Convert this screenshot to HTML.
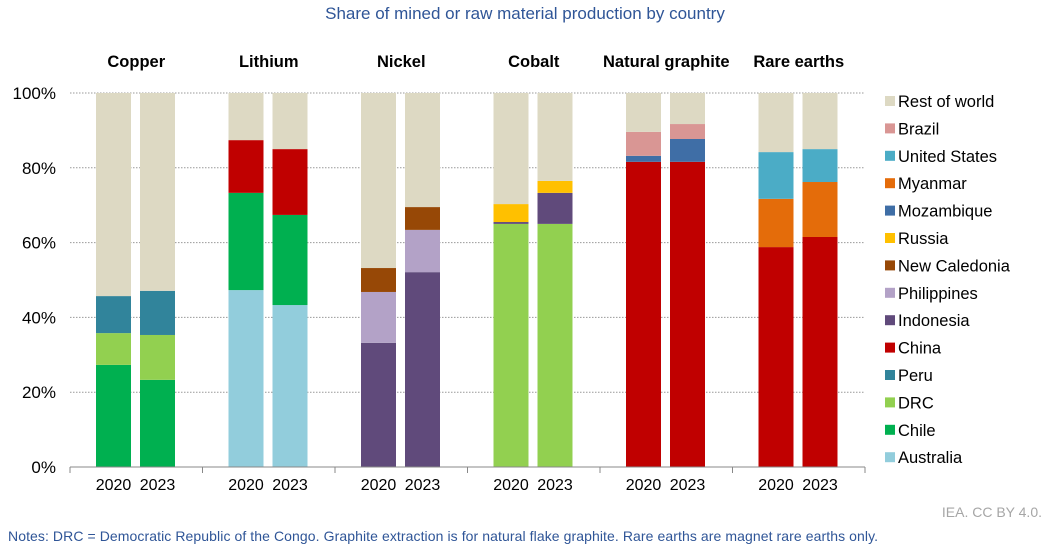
<!DOCTYPE html>
<html><head><meta charset="utf-8"><style>
body{margin:0;background:#fff;width:1049px;height:545px;overflow:hidden;font-family:"Liberation Sans",sans-serif}
</style></head><body>
<svg id="chart" width="1049" height="545" xmlns="http://www.w3.org/2000/svg" font-family="Liberation Sans, sans-serif">
<text x="525" y="19" text-anchor="middle" font-size="17" fill="#2f5597">Share of mined or raw material production by country</text>
<g id="grid"></g><g id="bars"></g><g id="axes"></g><g id="legend"></g>
<text x="1042" y="517" text-anchor="end" font-size="14" fill="#a6a6a6">IEA. CC BY 4.0.</text>
<text x="8" y="541" font-size="14" textLength="870" fill="#2f5597">Notes: DRC = Democratic Republic of the Congo. Graphite extraction is for natural flake graphite. Rare earths are magnet rare earths only.</text>
</svg>
<script>
const minerals=["Copper","Lithium","Nickel","Cobalt","Natural graphite","Rare earths"];
const years=["2020","2023"];
const countries=["Australia","Chile","DRC","Peru","China","Indonesia","Philippines","New Caledonia","Russia","Mozambique","Myanmar","United States","Brazil","Rest of world"];
const colors=["#92cddc","#00b050","#92d050","#31849b","#c00000","#604a7b","#b3a2c7","#974806","#ffc000","#3f6ea6","#e46c0a","#4bacc6","#d99694","#ddd9c3"];
const copper2020=[0,27.3,8.5,9.9,0,0,0,0,0,0,0,0,0];
const copper2023=[0,23.3,12,11.8,0,0,0,0,0,0,0,0,0];
const lithium2020=[47.3,26,0,0,14.1,0,0,0,0,0,0,0,0];
const lithium2023=[43.3,24.1,0,0,17.6,0,0,0,0,0,0,0,0];
const nickel2020=[0,0,0,0,0,33.2,13.6,6.4,0,0,0,0,0];
const nickel2023=[0,0,0,0,0,52.1,11.3,6.1,0,0,0,0,0];
const cobalt2020=[0,0,65,0,0,0.5,0,0,4.8,0,0,0,0];
const cobalt2023=[0,0,65,0,0,8.3,0,0,3.2,0,0,0,0];
const graphite2020=[0,0,0,0,81.6,0,0,0,0,1.6,0,0,6.4];
const graphite2023=[0,0,0,0,81.6,0,0,0,0,6.1,0,0,4];
const rare2020=[0,0,0,0,58.8,0,0,0,0,0,12.9,12.5,0];
const rare2023=[0,0,0,0,61.5,0,0,0,0,0,14.7,8.8,0];
const yTicks=[0,20,40,60,80,100];
const series=[[copper2020,copper2023],[lithium2020,lithium2023],[nickel2020,nickel2023],[cobalt2020,cobalt2023],[graphite2020,graphite2023],[rare2020,rare2023]];
const NS="http://www.w3.org/2000/svg";
const y0=467,y1=93,xL=70,gw=132.5,bw=35;
const y=v=>y0-(y0-y1)*v/100;
const gx=i=>xL+gw*i;
function mk(t,a,p){const e=document.createElementNS(NS,t);for(const k in a)e.setAttribute(k,a[k]);p.appendChild(e);return e;}
const grid=document.getElementById('grid'),bars=document.getElementById('bars'),axes=document.getElementById('axes'),leg=document.getElementById('legend');
yTicks.forEach(t=>{
 if(t>0){const l=mk('line',{x1:xL,x2:gx(6),y1:y(t),y2:y(t),stroke:'#999','stroke-dasharray':'1.5,1.5'},grid);
 
 }
 const tx=mk('text',{x:56,y:y(t)+6,'text-anchor':'end','font-size':17,fill:'#000'},axes);tx.textContent=t+'%';
 
 
});
const ax=mk('line',{x1:xL,x2:gx(6),y1:y0,y2:y0,stroke:'#888'},axes);


for(let i=0;i<=6;i++){const l=mk('line',{x1:gx(i),x2:gx(i),y1:y0,y2:y0+6,stroke:'#888'},axes);
 
 }
minerals.forEach((m,i)=>{
 const t=mk('text',{x:gx(i)+gw/2,y:67,'text-anchor':'middle','font-size':16.5,'font-weight':'bold'},axes);t.textContent=m;
 
 
 years.forEach((yr,j)=>{
  const bx=gx(i)+26+j*44;
  const lb=mk('text',{x:bx+bw/2,y:490,'text-anchor':'middle','font-size':16},axes);lb.textContent=yr;
  
  
  const vals=series[i][j];let cum=0;
  const all=vals.concat([100-vals.reduce((a,b)=>a+b,0)]);
  all.forEach((v,k)=>{if(v<=0)return;
   const r=mk('rect',{x:bx,width:bw,y:y(cum+v),height:y(cum)-y(cum+v),fill:colors[k]},bars);
   
   
   cum+=v;});
 });
});
for(let k=countries.length-1;k>=0;k--){
 const row=countries.length-1-k,ly=101+row*27.4;
 const g=mk('g',{},leg);
 
 
 mk('rect',{x:885,y:ly-5,width:10,height:10,fill:colors[k]},g);
 const t=mk('text',{x:898,y:ly+6,'font-size':16.5},g);t.textContent=countries[k];
}
</script>
</body></html>
